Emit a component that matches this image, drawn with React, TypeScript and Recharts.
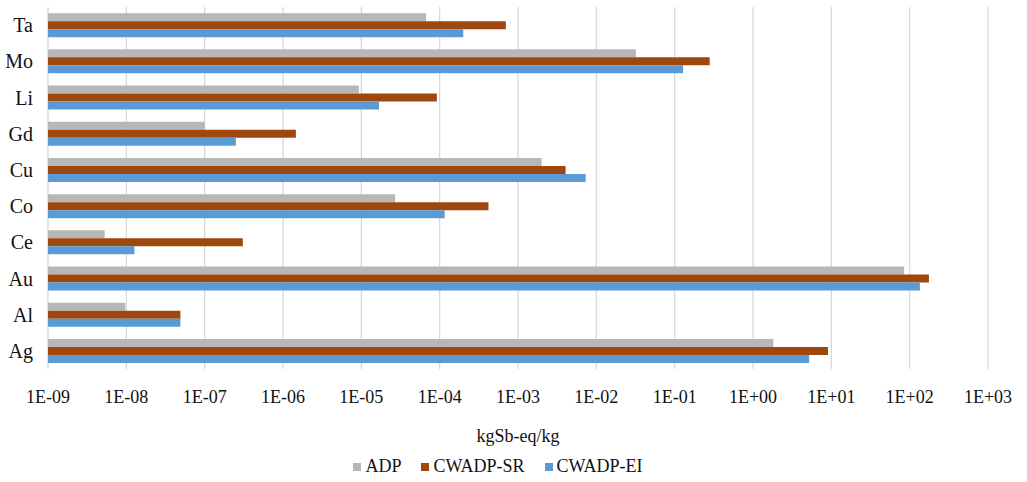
import React from "react";
import {
  BarChart,
  Bar,
  XAxis,
  YAxis,
  CartesianGrid,
  Legend,
  Label,
} from "recharts";

// elements, top to bottom as drawn
const elements = ["Ta", "Mo", "Li", "Gd", "Cu", "Co", "Ce", "Au", "Al", "Ag"];

// kgSb-eq/kg
const adp = [6.7e-5, 3.2e-2, 9.3e-6, 1.0e-7, 2.0e-3, 2.7e-5, 5.3e-9, 85, 9.7e-9, 1.82];
const cwadpSR = [7.0e-4, 0.28, 9.2e-5, 1.46e-6, 4.05e-3, 4.2e-4, 3.07e-7, 176, 4.9e-8, 9.06];
const cwadpEI = [2.0e-4, 0.128, 1.68e-5, 2.5e-7, 7.3e-3, 1.16e-4, 1.27e-8, 135, 4.9e-8, 5.2];

const xTicks = [1e-9, 1e-8, 1e-7, 1e-6, 1e-5, 1e-4, 1e-3, 1e-2, 1e-1, 1e0, 1e1, 1e2, 1e3];

const series = [
  { key: "ADP", color: "#B7B7B7" },
  { key: "CWADP-SR", color: "#9E480E" },
  { key: "CWADP-EI", color: "#5B9BD5" },
];

const data = elements.map((name, i) => ({
  name,
  ADP: adp[i],
  "CWADP-SR": cwadpSR[i],
  "CWADP-EI": cwadpEI[i],
}));

const FONT = "Liberation Serif";
const TEXT = "#111";

// Excel-style scientific labels: 1E-09, 1E+00 ...
const sci = (v: number) => {
  const e = Math.round(Math.log10(v));
  const sign = e < 0 ? "-" : "+";
  return `1E${sign}${String(Math.abs(e)).padStart(2, "0")}`;
};

const XTick = ({ x, y, payload }: any) => (
  <text x={x} y={y} dy={14} textAnchor="middle" fontFamily={FONT} fontSize={18} fill={TEXT}>
    {sci(payload.value)}
  </text>
);

const YTick = ({ x, y, payload }: any) => (
  <text x={x} y={y} dy={7} textAnchor="end" fontFamily={FONT} fontSize={20} fill={TEXT}>
    {payload.value}
  </text>
);

const LegendContent = () => (
  <div
    style={{
      display: "flex",
      justifyContent: "center",
      alignItems: "center",
      gap: 20,
      fontFamily: FONT,
      fontSize: 18,
      color: TEXT,
      paddingLeft: 8,
      paddingTop: 4,
    }}
  >
    {series.map((s) => (
      <span key={s.key} style={{ display: "flex", alignItems: "center", gap: 4 }}>
        <span style={{ width: 8, height: 8, background: s.color, display: "inline-block" }} />
        {s.key}
      </span>
    ))}
  </div>
);

export default function App() {
  return (
    <div style={{ position: "absolute", left: 0, top: 0, width: 1027, height: 482, background: "#fff", fontFamily: FONT }}>
      <BarChart
        width={1027}
        height={482}
        data={data}
        layout="vertical"
        margin={{ top: 7, right: 39, left: 0, bottom: 0 }}
        barCategoryGap="17%"
        barGap={0}
      >
        <CartesianGrid horizontal={false} stroke="#D9D9D9" strokeWidth={1.3} />
        <XAxis
          type="number"
          scale="log"
          domain={[1e-9, 1e3]}
          ticks={xTicks}
          axisLine={false}
          tickLine={false}
          tickMargin={14}
          height={83}
          interval={0}
          tick={<XTick />}
        >
          <Label
            position="insideBottom"
            offset={9}
            content={({ viewBox }: any) => (
              <text
                x={viewBox.x + viewBox.width / 2}
                y={viewBox.y + viewBox.height - 10}
                textAnchor="middle"
                fontFamily={FONT}
                fontSize={18}
                fill={TEXT}
              >
                kgSb-eq/kg
              </text>
            )}
          />
        </XAxis>
        <YAxis
          type="category"
          dataKey="name"
          width={48}
          axisLine={false}
          tickLine={false}
          tickMargin={9}
          interval={0}
          tick={<YTick />}
        />
        <Legend verticalAlign="bottom" height={30} content={<LegendContent />} />
        {series.map((s) => (
          <Bar key={s.key} dataKey={s.key} fill={s.color} isAnimationActive={false} />
        ))}
      </BarChart>
    </div>
  );
}
